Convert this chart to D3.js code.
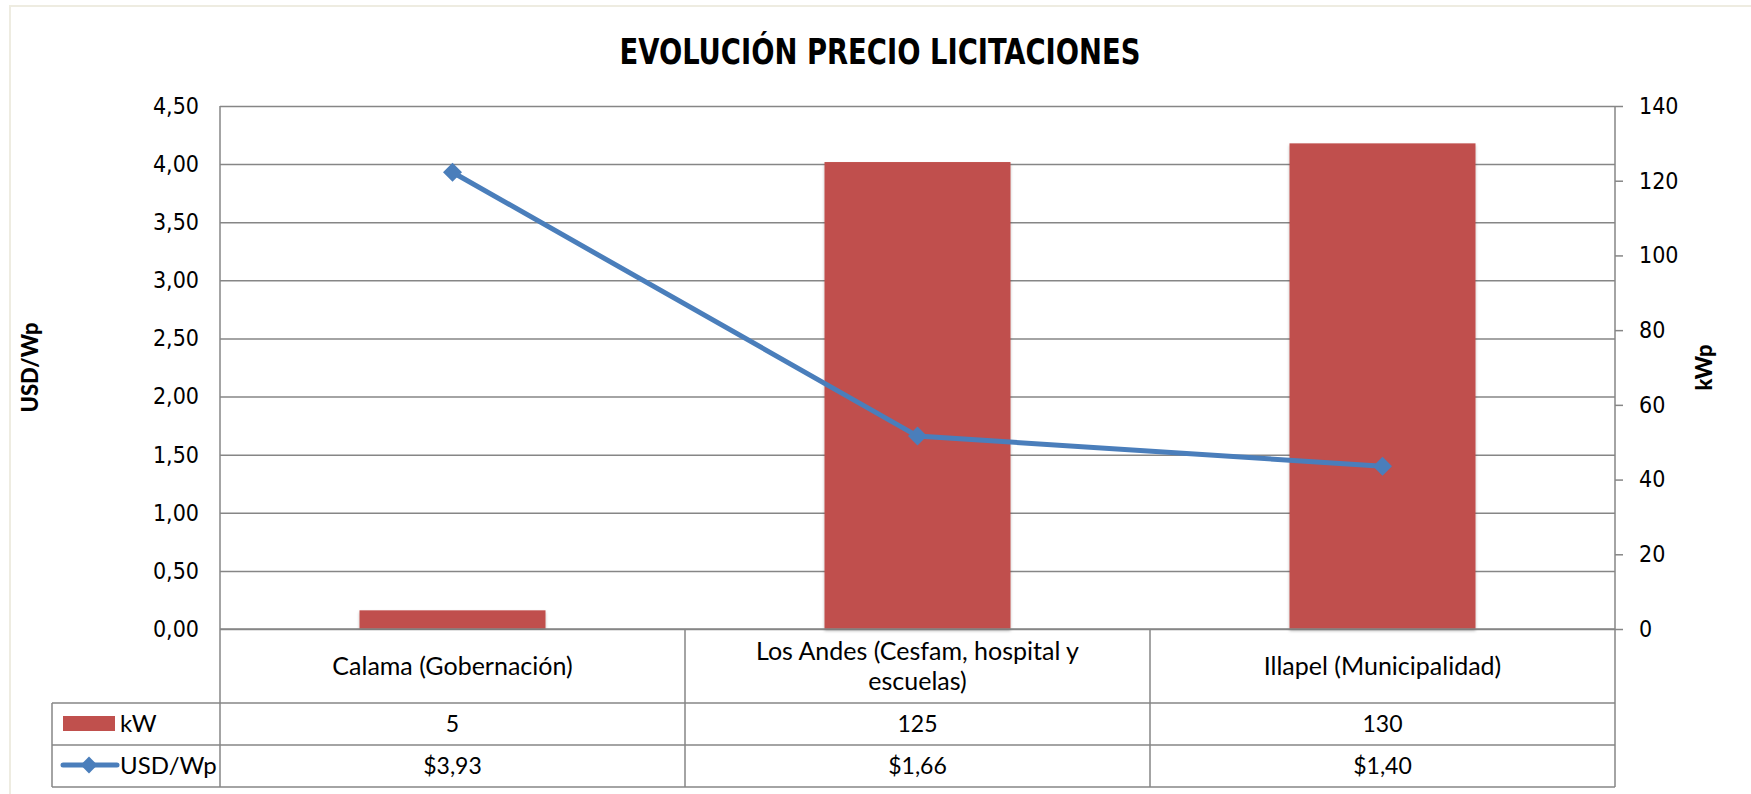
<!DOCTYPE html>
<html>
<head>
<meta charset="utf-8">
<script src="https://cdn.jsdelivr.net/npm/d3@7"></script>
<style>
  body { margin: 0; background: #fff; }
  .narrow { font-family: "Liberation Sans Narrow", "DejaVu Sans", sans-serif; font-stretch: condensed; }
  .calib { font-family: Lato, "Open Sans", sans-serif; }
</style>
</head>
<body>
<svg id="svg1" width="1751" height="794"></svg>
<script>
// data
var categories = ["Calama (Gobernación)", "Los Andes (Cesfam, hospital y escuelas)", "Illapel (Municipalidad)"];
var kW = [5, 125, 130];
var usdWp = [3.93, 1.66, 1.40];
var leftTicks = [0, 0.5, 1, 1.5, 2, 2.5, 3, 3.5, 4, 4.5];
var rightTicks = [0, 20, 40, 60, 80, 100, 120, 140];

var svg1 = d3.select("#svg1");
var width = 1751;
var height = 794;

var plotL = 220, plotR = 1615, plotT = 106, plotB = 629;
var rowKw = 703, rowUsd = 745, rowEnd = 787, tableLeft = 52;
var grid = "#868686";
var red = "#C0504D";
var blue = "#4A7EBB";

var fmt = function(v) { return d3.format(".2f")(v).replace(".", ","); };

// soft shadow under the bars
var defs = svg1.append("defs");
defs.append("filter")
  .attr("id", "shadow")
  .attr("x", "-5%").attr("y", "-5%").attr("width", "110%").attr("height", "110%")
  .append("feDropShadow")
  .attr("dx", 0).attr("dy", 2).attr("stdDeviation", 1.5)
  .attr("flood-color", "#000").attr("flood-opacity", 0.25);

// outer chart border
svg1.append("rect")
  .attr("x", 10).attr("y", 6)
  .attr("width", 1800).attr("height", 900)
  .attr("fill", "white")
  .attr("stroke", "#EEECE1")
  .attr("stroke-width", 2);

var x = d3.scaleBand()
  .domain(categories)
  .range([plotL, plotR]);

var yL = d3.scaleLinear().domain([0, 4.5]).range([plotB, plotT]);
var yR = d3.scaleLinear().domain([0, 140]).range([plotB, plotT]);

// gridlines + left labels
var gLeft = svg1.append("g")
  .attr("transform", `translate(${plotL},0)`)
  .call(d3.axisLeft(yL).tickValues(leftTicks).tickSize(-(plotR - plotL)).tickPadding(21).tickFormat(fmt));
gLeft.select(".domain").remove();
gLeft.selectAll("line").attr("stroke", grid).attr("stroke-width", 1.5);
gLeft.selectAll("text")
  .attr("class", "narrow")
  .attr("font-size", 23)
  .attr("fill", "#000");

// right axis
var gRight = svg1.append("g")
  .attr("transform", `translate(${plotR},0)`)
  .call(d3.axisRight(yR).tickValues(rightTicks).tickSize(8).tickPadding(16).tickFormat(d3.format("d")));
gRight.select(".domain").attr("stroke", grid).attr("stroke-width", 1.5).attr("d", `M0,${plotT}V${plotB}`);
gRight.selectAll("line").attr("stroke", grid).attr("stroke-width", 1.5);
gRight.selectAll("text")
  .attr("class", "narrow")
  .attr("font-size", 23)
  .attr("fill", "#000");

// bars on right scale
var bw = x.bandwidth() * 0.4;
svg1.append("g")
  .selectAll("rect")
  .data(kW)
  .enter()
  .append("rect")
  .attr("x", (d, i) => x(categories[i]) + (x.bandwidth() - bw) / 2)
  .attr("y", d => yR(d))
  .attr("width", bw)
  .attr("height", d => plotB - yR(d))
  .attr("fill", red)
  .attr("filter", "url(#shadow)");

// table lines
var tl = svg1.append("g").attr("stroke", grid).attr("stroke-width", 1.5);
tl.append("line").attr("x1", plotL).attr("x2", plotR).attr("y1", plotB).attr("y2", plotB);
[rowKw, rowUsd, rowEnd].forEach(function(yy) {
  tl.append("line").attr("x1", tableLeft).attr("x2", plotR).attr("y1", yy).attr("y2", yy);
});
tl.append("line").attr("x1", plotL).attr("x2", plotL).attr("y1", plotT).attr("y2", rowEnd);
tl.append("line").attr("x1", tableLeft).attr("x2", tableLeft).attr("y1", rowKw).attr("y2", rowEnd);
categories.forEach(function(c) {
  tl.append("line")
    .attr("x1", x(c) + x.bandwidth()).attr("x2", x(c) + x.bandwidth())
    .attr("y1", plotB).attr("y2", rowEnd);
});

// line series on left scale
var cx = (d, i) => x(categories[i]) + x.bandwidth() / 2;
var line = d3.line().x(cx).y(d => yL(d));
svg1.append("path")
  .datum(usdWp)
  .attr("d", line)
  .attr("fill", "none")
  .attr("stroke", blue)
  .attr("stroke-width", 5);
svg1.append("g")
  .selectAll("path")
  .data(usdWp)
  .enter()
  .append("path")
  .attr("d", d3.symbol().type(d3.symbolDiamond2).size(230))
  .attr("transform", (d, i) => `translate(${cx(d, i)},${yL(d)})`)
  .attr("fill", blue);

// category labels, wrapped to fit the cell
function textLen(t) { return t.node().getComputedTextLength(); }
svg1.append("g")
  .selectAll("text")
  .data(categories)
  .enter()
  .append("text")
  .attr("class", "calib")
  .attr("font-size", 25)
  .attr("text-anchor", "middle")
  .each(function(c) {
    var t = d3.select(this);
    var words = c.split(" ");
    var lines = [], cur = [];
    words.forEach(function(w) {
      cur.push(w);
      t.text(cur.join(" "));
      if (textLen(t) > 360 && cur.length > 1) {
        cur.pop();
        lines.push(cur.join(" "));
        cur = [w];
      }
    });
    lines.push(cur.join(" "));
    t.text(null);
    var y0 = (plotB + rowKw) / 2 - (lines.length - 1) * 15 + 9;
    lines.forEach(function(l, k) {
      t.append("tspan")
        .attr("x", x(c) + x.bandwidth() / 2)
        .attr("y", y0 + k * 30)
        .text(l);
    });
  });

// table values
function rowText(vals, yy, f) {
  svg1.append("g")
    .selectAll("text")
    .data(vals)
    .enter()
    .append("text")
    .attr("class", "calib")
    .attr("font-size", 23)
    .attr("text-anchor", "middle")
    .attr("x", (d, i) => x(categories[i]) + x.bandwidth() / 2)
    .attr("y", yy)
    .text(f);
}
rowText(kW, (rowKw + rowUsd) / 2 + 8, d => d);
rowText(usdWp, (rowUsd + rowEnd) / 2 + 8, d => "$" + fmt(d));

// legend keys inside the table
svg1.append("rect")
  .attr("x", 63).attr("y", 716).attr("width", 52).attr("height", 15)
  .attr("fill", red);
svg1.append("line")
  .attr("x1", 63).attr("x2", 117).attr("y1", 765).attr("y2", 765)
  .attr("stroke", blue).attr("stroke-width", 5).attr("stroke-linecap", "round");
svg1.append("path")
  .attr("d", d3.symbol().type(d3.symbolDiamond2).size(180))
  .attr("transform", "translate(89,765)")
  .attr("fill", blue);
svg1.append("text").attr("class", "calib").attr("font-size", 24)
  .attr("x", 120).attr("y", (rowKw + rowUsd) / 2 + 8).text("kW");
svg1.append("text").attr("class", "calib").attr("font-size", 24)
  .attr("x", 120).attr("y", (rowUsd + rowEnd) / 2 + 8).text("USD/Wp");

// title and axis titles
svg1.append("text")
  .attr("class", "narrow")
  .attr("x", 880).attr("y", 64)
  .attr("text-anchor", "middle")
  .attr("font-size", 35)
  .attr("font-weight", "bold")
  .attr("textLength", 521)
  .attr("lengthAdjust", "spacingAndGlyphs")
  .text("EVOLUCIÓN PRECIO LICITACIONES");

svg1.append("text")
  .attr("class", "calib")
  .attr("transform", `translate(38,${(plotT + plotB) / 2}) rotate(-90)`)
  .attr("text-anchor", "middle")
  .attr("font-size", 22)
  .attr("font-weight", 900)
  .text("USD/Wp");

svg1.append("text")
  .attr("class", "calib")
  .attr("transform", `translate(1712,${(plotT + plotB) / 2}) rotate(-90)`)
  .attr("text-anchor", "middle")
  .attr("font-size", 22)
  .attr("font-weight", 900)
  .text("kWp");
</script>
</body>
</html>
